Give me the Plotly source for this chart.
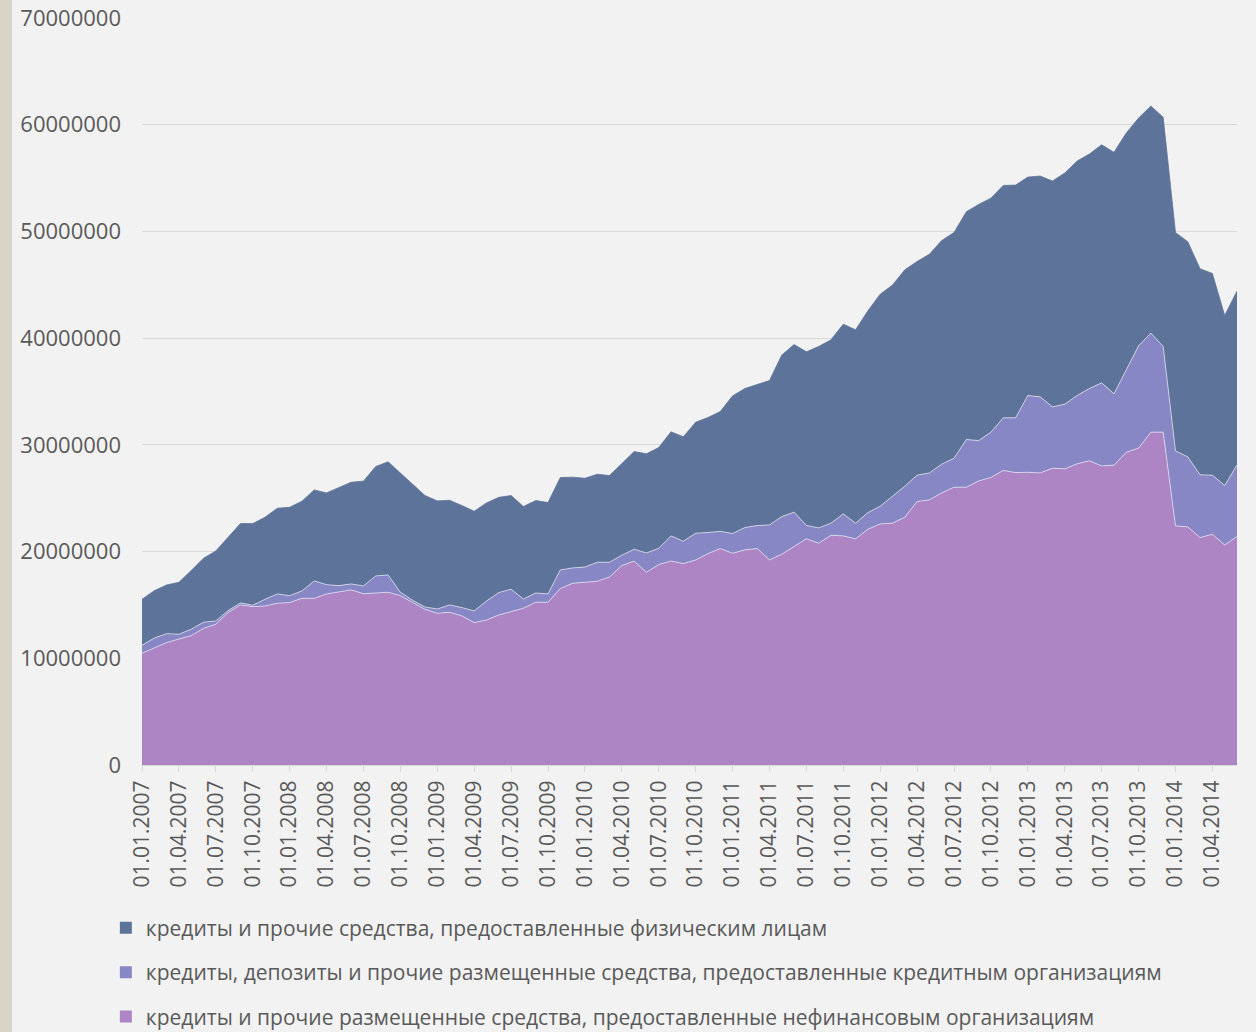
import plotly.graph_objects as go
import pandas as pd

# Monthly dates 01.01.2007 .. 01.06.2014 (category labels)
MONTHS = [d.strftime("%d.%m.%Y") for d in pd.date_range("2007-01-01", periods=90, freq="MS")]

TICK_LABELS = [
    "01.01.2007", "01.04.2007", "01.07.2007", "01.10.2007",
    "01.01.2008", "01.04.2008", "01.07.2008", "01.10.2008",
    "01.01.2009", "01.04.2009", "01.07.2009", "01.10.2009",
    "01.01.2010", "01.04.2010", "01.07.2010", "01.10.2010",
    "01.01.2011", "01.04.2011", "01.07.2011", "01.10.2011",
    "01.01.2012", "01.04.2012", "01.07.2012", "01.10.2012",
    "01.01.2013", "01.04.2013", "01.07.2013", "01.10.2013",
    "01.01.2014", "01.04.2014",
]

NAME_NONFIN = "кредиты и прочие размещенные средства, предоставленные нефинансовым организациям"
NAME_CREDIT = "кредиты, депозиты и прочие размещенные средства, предоставленные кредитным организациям"
NAME_PERSONS = "кредиты и прочие средства, предоставленные физическим лицам"

# bottom layer: non-financial organisations
NONFIN = [
    10470000, 10940000, 11470000, 11810000, 12120000, 12810000, 13190000, 14280000, 15000000, 14840000,
    14900000, 15160000, 15220000, 15620000, 15620000, 16030000, 16190000, 16410000, 16050000, 16120000,
    16190000, 15870000, 15220000, 14590000, 14220000, 14310000, 13970000, 13340000, 13590000, 14060000,
    14370000, 14690000, 15250000, 15250000, 16530000, 17030000, 17120000, 17220000, 17620000, 18690000,
    19100000, 18060000, 18780000, 19120000, 18870000, 19220000, 19810000, 20280000, 19840000, 20160000,
    20280000, 19220000, 19750000, 20440000, 21200000, 20780000, 21530000, 21470000, 21190000, 22090000,
    22590000, 22660000, 23220000, 24690000, 24840000, 25500000, 26030000, 26030000, 26620000, 26940000,
    27600000, 27400000, 27430000, 27370000, 27810000, 27750000, 28220000, 28500000, 28030000, 28090000,
    29310000, 29690000, 31190000, 31190000, 22410000, 22310000, 21310000, 21620000, 20620000, 21410000,
]

# middle layer: credit organisations
CREDIT = [
    750000, 960000, 840000, 440000, 600000, 570000, 310000, 190000, 190000, 130000,
    630000, 870000, 650000, 690000, 1630000, 870000, 620000, 560000, 730000, 1600000,
    1620000, 320000, 220000, 220000, 400000, 690000, 780000, 1100000, 1780000, 2100000,
    2100000, 870000, 870000, 780000, 1750000, 1440000, 1430000, 1780000, 1380000, 970000,
    1120000, 1810000, 1530000, 2350000, 2100000, 2500000, 1970000, 1620000, 1850000, 2090000,
    2160000, 3280000, 3530000, 3250000, 1250000, 1440000, 1130000, 2060000, 1470000, 1560000,
    1660000, 2500000, 2910000, 2470000, 2530000, 2690000, 2720000, 4470000, 3780000, 4250000,
    4930000, 5130000, 7190000, 7130000, 5750000, 6060000, 6400000, 6780000, 7780000, 6690000,
    7660000, 9590000, 9280000, 8030000, 7030000, 6560000, 5880000, 5540000, 5570000, 6710000,
]

# top layer: individuals
PERSONS = [
    4310000, 4440000, 4560000, 4870000, 5500000, 6000000, 6560000, 6870000, 7430000, 7650000,
    7690000, 8030000, 8280000, 8410000, 8530000, 8600000, 9190000, 9530000, 9820000, 10250000,
    10600000, 11150000, 10810000, 10440000, 10130000, 9810000, 9560000, 9340000, 9190000, 8920000,
    8780000, 8660000, 8660000, 8560000, 8660000, 8500000, 8320000, 8250000, 8120000, 8560000,
    9150000, 9290000, 9440000, 9750000, 9780000, 10400000, 10780000, 11220000, 12900000, 13030000,
    13180000, 13530000, 15130000, 15710000, 16270000, 17000000, 17180000, 17780000, 18120000, 18910000,
    19870000, 19810000, 20270000, 20030000, 20500000, 20960000, 21150000, 21340000, 22130000, 21930000,
    21780000, 21810000, 20470000, 20690000, 21160000, 21660000, 21970000, 21970000, 22310000, 22630000,
    22250000, 21340000, 21280000, 21470000, 20460000, 20160000, 19310000, 18900000, 15930000, 16290000,
]

COL_NONFIN = "#ad84c4"
COL_CREDIT = "#8887c5"
COL_PERSONS = "#5e7399"
EDGE = "rgba(235,235,245,0.85)"

FONT = "Open Sans"
TXT = "#595959"

fig = go.Figure()

for name, vals, col, edge in [
    (NAME_NONFIN, NONFIN, COL_NONFIN, EDGE),
    (NAME_CREDIT, CREDIT, COL_CREDIT, EDGE),
    (NAME_PERSONS, PERSONS, COL_PERSONS, COL_PERSONS),
]:
    fig.add_trace(go.Scatter(
        x=MONTHS, y=vals, name=name, mode="lines",
        stackgroup="one", line=dict(color=edge, width=0.8),
        fillcolor=col, showlegend=False, hoverinfo="x+y+name",
    ))

# legend entries with square markers (top-to-bottom order as in the reference)
for name, col in [(NAME_PERSONS, COL_PERSONS), (NAME_CREDIT, COL_CREDIT), (NAME_NONFIN, COL_NONFIN)]:
    fig.add_trace(go.Scatter(
        x=[None], y=[None], mode="markers", name=name, legendgroup=name,
        marker=dict(symbol="square", size=14, color=col), showlegend=True,
    ))

fig.update_layout(
    width=1256, height=1032,
    paper_bgcolor="#f2f2f2", plot_bgcolor="#f2f2f2",
    margin=dict(l=142, r=19, t=18, b=267, autoexpand=False),
    font=dict(family=FONT, size=21, color=TXT),
    showlegend=True,
    legend=dict(
        traceorder="grouped", orientation="v",
        x=-0.033, xanchor="left", y=-0.191, yanchor="top",
        font=dict(family=FONT, size=21, color=TXT),
        bgcolor="rgba(0,0,0,0)", tracegroupgap=14,
        itemsizing="constant",
    ),
    shapes=[dict(type="rect", xref="paper", yref="paper", x0=-0.1297, x1=-0.1187,
                 y0=-0.36, y1=1.03, fillcolor="#d9d4c8", line=dict(width=0), layer="below")],
)

fig.update_xaxes(
    type="category", range=[0, 89], automargin=False,
    tickmode="array", tickvals=TICK_LABELS, ticktext=TICK_LABELS,
    tickangle=-90, ticks="outside", ticklen=6, tickcolor="#d9d9d9",
    showline=True, linecolor="#d9d9d9", linewidth=1,
    showgrid=False, zeroline=False,
    tickfont=dict(family=FONT, size=21, color=TXT),
)
fig.update_yaxes(
    range=[0, 70000000], dtick=10000000, tick0=0, tickformat="d",
    showgrid=True, gridcolor="#d9d9d9", gridwidth=1, automargin=False,
    zeroline=False, showline=False, ticks="",
    ticklabelstandoff=20,
    tickfont=dict(family=FONT, size=22, color=TXT),
)

fig.write_html("out.html", config={"displayModeBar": False})

# remove default page margin so the figure fills the window exactly
with open("out.html", encoding="utf-8") as f:
    html = f.read()
html = html.replace("<head>", "<head><style>html,body{margin:0;padding:0;overflow:hidden;}</style>", 1)
with open("out.html", "w", encoding="utf-8") as f:
    f.write(html)
